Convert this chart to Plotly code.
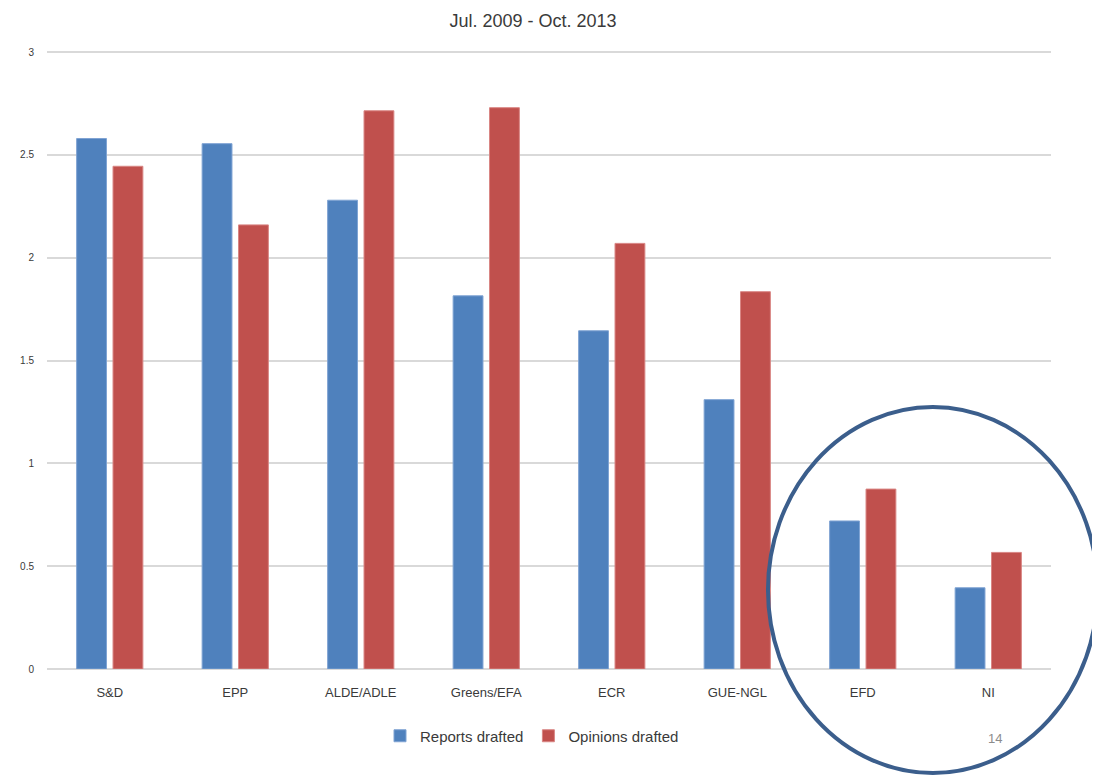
import plotly.graph_objects as go

categories = ["S&D", "EPP", "ALDE/ADLE", "Greens/EFA", "ECR", "GUE-NGL", "EFD", "NI"]
reports_drafted = [2.58, 2.555, 2.28, 1.815, 1.645, 1.31, 0.72, 0.395]
opinions_drafted = [2.445, 2.16, 2.715, 2.73, 2.07, 1.835, 0.875, 0.567]
y_ticks = [0, 0.5, 1, 1.5, 2, 2.5, 3]
y_tick_labels = ["0", "0.5", "1", "1.5", "2", "2.5", "3"]

# page body offset (browser default margin)
OFF = 8
W, H = 1100 - OFF, 776 - OFF
# plot area in screenshot pixels (y: 0 at 669, 3 at 52)
UNIT = (669 - 52) / 3.0
Y_TOP = 3.03
PX0, PX1, PY1 = 40, 1051, 669
PY0 = PY1 - Y_TOP * UNIT
L, R, T, B = PX0 - OFF, (W + OFF) - PX1, PY0 - OFF, (H + OFF) - PY1
PW, PH = PX1 - PX0, PY1 - PY0


def paper_x(sx):
    return (sx - PX0) / PW


def paper_y(sy):
    return (PY1 - sy) / PH


fig = go.Figure()
fig.add_trace(go.Bar(
    x=categories, y=reports_drafted, name="Reports drafted",
    marker=dict(color="#4F81BD", line=dict(color="#7FA3D3", width=1)),
))
fig.add_trace(go.Bar(
    x=categories, y=opinions_drafted, name="Opinions drafted",
    marker=dict(color="#C0504D", line=dict(color="#D98684", width=1)),
))

fig.update_layout(
    width=W, height=H,
    margin=dict(l=L, r=R, t=T, b=B, pad=0),
    paper_bgcolor="white", plot_bgcolor="white",
    barmode="group", bargap=0.42, bargroupgap=0.18,
    font=dict(family="Liberation Sans, Arial, sans-serif", color="#3A3A3A"),
    title=dict(text="Jul. 2009 - Oct. 2013", x=(533 - OFF) / W, xref="container", xanchor="center",
               y=1 - (21 - OFF) / H, yref="container", yanchor="middle",
               font=dict(size=18, color="#3A3A3A")),
    showlegend=True,
    legend=dict(orientation="h", x=(532 - OFF) / W, xref="container", xanchor="center",
                y=1 - (736 - OFF) / H, yref="container", yanchor="middle",
                font=dict(size=15, color="#3A3A3A"), itemwidth=30,
                traceorder="normal"),
    xaxis=dict(showgrid=False, showline=False, ticks="", ticklabelstandoff=14,
               tickfont=dict(size=13, color="#3A3A3A"), zeroline=False),
    yaxis=dict(range=[0, Y_TOP], tickvals=y_ticks, ticktext=y_tick_labels,
               showgrid=True, gridcolor="#D9D9D9", gridwidth=1.5,
               zeroline=True, zerolinecolor="#D9D9D9", zerolinewidth=1.5,
               ticks="outside", ticklen=10, tickcolor="rgba(0,0,0,0)",
               tickfont=dict(size=10, color="#3A3A3A"), showline=False),
)

# Hand-drawn emphasis ellipse around EFD and NI
fig.add_shape(type="circle", xref="paper", yref="paper",
              x0=paper_x(766), x1=paper_x(1098),
              y0=paper_y(773), y1=paper_y(407),
              line=dict(color="#3B5E8C", width=4), layer="above")

fig.add_annotation(text="14", xref="paper", yref="paper",
                   x=paper_x(995), y=paper_y(739), xanchor="center", yanchor="middle",
                   showarrow=False, font=dict(size=13, color="#8C8C8C"))

fig.write_html("out.html")
